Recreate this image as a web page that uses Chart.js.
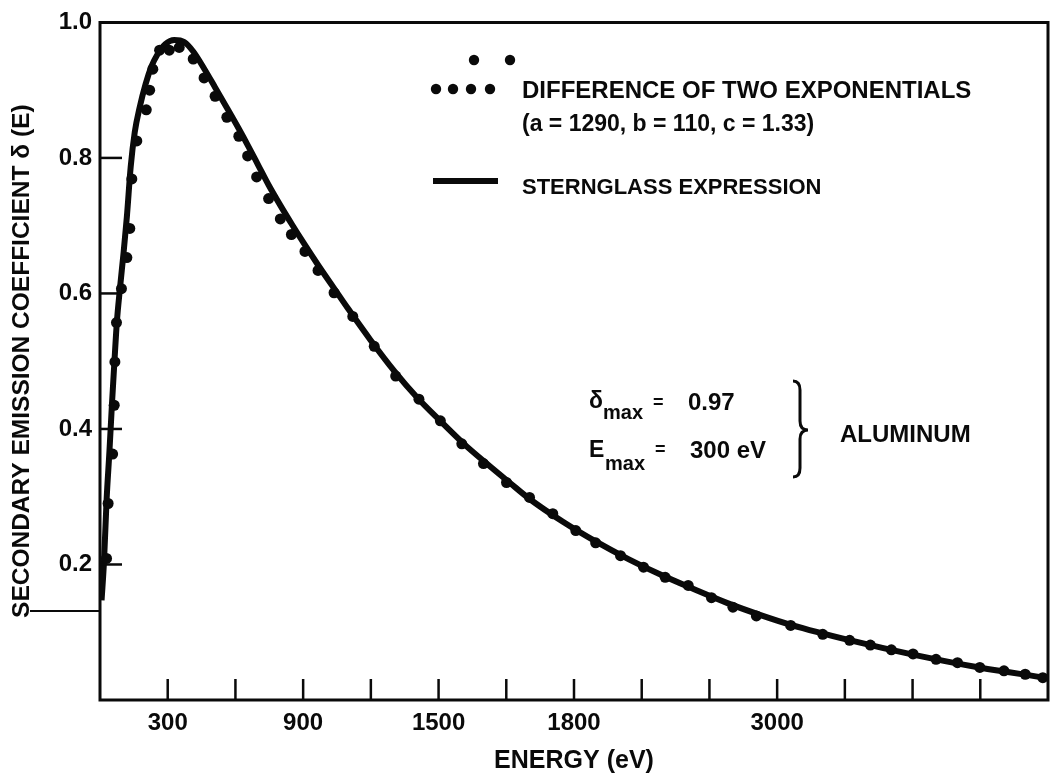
<!DOCTYPE html>
<html>
<head>
<meta charset="utf-8">
<script src="https://cdn.jsdelivr.net/npm/chart.js@4.4.1/dist/chart.umd.min.js"></script>
<style>
  html, body { margin: 0; padding: 0; background: #fff; }
  #wrap { width: 1057px; height: 776px; position: relative; }
</style>
</head>
<body>
<div id="wrap"><canvas id="c"></canvas></div>
<script>
// ---- data ----
const energyDots = [29,36,56,63,66,73,95,119,132,141,163,205,220,234,264,307,351,413,461,510,562,615,654,694,747,799,848,908,966,1037,1120,1215,1310,1413,1508,1603,1699,1801,1903,2006,2108,2196,2306,2408,2504,2606,2709,2804,2908,3060,3202,3321,3413,3506,3602,3704,3799,3898,4005,4099,4177];
const deltaDots = [0.209,0.290,0.363,0.435,0.499,0.557,0.607,0.653,0.696,0.769,0.825,0.871,0.900,0.931,0.959,0.959,0.963,0.946,0.918,0.891,0.860,0.832,0.803,0.772,0.740,0.710,0.687,0.662,0.634,0.601,0.566,0.522,0.478,0.444,0.412,0.378,0.349,0.321,0.299,0.275,0.250,0.232,0.213,0.196,0.181,0.169,0.151,0.137,0.124,0.110,0.097,0.088,0.081,0.074,0.068,0.060,0.055,0.048,0.043,0.038,0.033];

const energyLine = [7,18,29,42,53,64,75,88,105,119,136,154,176,202,228,255,290,329,373,413,461,510,562,615,659,703,747,799,852,905,966,1032,1098,1199,1305,1406,1507,1612,1713,1814,1902,2051,2196,2341,2490,2635,2780,2930,3061,3325,3602,3896,4186];
const deltaLine = [0.147,0.206,0.294,0.368,0.437,0.500,0.559,0.606,0.662,0.713,0.787,0.838,0.875,0.909,0.935,0.953,0.968,0.974,0.971,0.957,0.932,0.904,0.874,0.843,0.816,0.788,0.760,0.730,0.701,0.673,0.642,0.610,0.578,0.531,0.485,0.446,0.412,0.378,0.349,0.321,0.297,0.263,0.234,0.208,0.184,0.163,0.143,0.125,0.111,0.088,0.067,0.048,0.033];

const xTickValues = [0,300,600,900,1200,1500,1800,2100,2400,2700,3000,3300,3600,3900,4200];
const xLabelValues = [300, 900, 1500, 2100, 3000];
const xLabelTexts = ['300', '900', '1500', '1800', '3000'];
const yTickValues = [0, 0.2, 0.4, 0.6, 0.8, 1.0];
const yLabelTexts = ['', '0.2', '0.4', '0.6', '0.8', '1.0'];

const seriesNames = ['DIFFERENCE OF TWO EXPONENTIALS', 'STERNGLASS EXPRESSION'];
const paramText = '(a = 1290, b = 110, c = 1.33)';
const xTitle = 'ENERGY (eV)';
const yTitle = 'SECONDARY EMISSION COEFFICIENT δ (E)';

const FONT = '"Liberation Sans", Arial, Helvetica, sans-serif';
const INK = '#0a0a0a';

const toXY = (xs, ys) => xs.map((x, i) => ({ x: x, y: ys[i] }));

const decor = {
  id: 'decor',
  afterDatasetsDraw(chart) {
    const { ctx, chartArea: a, scales } = chart;
    const xs = scales.x, ys = scales.y;
    ctx.save();
    ctx.strokeStyle = INK;
    ctx.fillStyle = INK;
    ctx.lineCap = 'butt';
    // frame
    ctx.lineWidth = 3;
    ctx.beginPath();
    ctx.moveTo(a.left, a.top); ctx.lineTo(a.right, a.top);
    ctx.lineTo(a.right, a.bottom); ctx.lineTo(a.left, a.bottom);
    ctx.closePath();
    ctx.stroke();
    // inward ticks on x
    ctx.lineWidth = 2.5;
    xTickValues.forEach(v => {
      if (v <= xs.min || v >= xs.max) return;
      const px = xs.getPixelForValue(v);
      ctx.beginPath(); ctx.moveTo(px, a.bottom); ctx.lineTo(px, a.bottom - 21); ctx.stroke();
    });
    // inward ticks on y
    yTickValues.forEach(v => {
      if (v <= ys.min || v >= ys.max) return;
      const py = ys.getPixelForValue(v);
      ctx.beginPath(); ctx.moveTo(a.left, py); ctx.lineTo(a.left + 22, py); ctx.stroke();
    });
    // stray rule at left of axis
    ctx.lineWidth = 2;
    ctx.beginPath(); ctx.moveTo(30, 611); ctx.lineTo(a.left, 611); ctx.stroke();

    // legend
    [[436,89],[453,89],[471,89],[490,89],[474,60],[510,60]].forEach(p => {
      ctx.beginPath(); ctx.arc(p[0], p[1], 5.2, 0, Math.PI * 2); ctx.fill();
    });
    ctx.lineWidth = 6;
    ctx.beginPath(); ctx.moveTo(433, 181); ctx.lineTo(498, 181); ctx.stroke();

    ctx.textAlign = 'left';
    ctx.textBaseline = 'alphabetic';
    ctx.font = 'bold 24px ' + FONT;
    ctx.fillText(seriesNames[0], 522, 98);
    ctx.font = 'bold 23px ' + FONT;
    ctx.fillText(paramText, 522, 131);
    ctx.font = 'bold 22px ' + FONT;
    ctx.fillText(seriesNames[1], 522, 194);

    // annotation
    ctx.font = 'bold 23px ' + FONT;
    ctx.fillText('δ', 589, 408);
    ctx.font = 'bold 20px ' + FONT;
    ctx.fillText('max', 603, 419);
    ctx.font = 'bold 18px ' + FONT;
    ctx.fillText('=', 653, 408);
    ctx.font = 'bold 24px ' + FONT;
    ctx.fillText('0.97', 688, 410);

    ctx.font = 'bold 23px ' + FONT;
    ctx.fillText('E', 589, 457);
    ctx.font = 'bold 20px ' + FONT;
    ctx.fillText('max', 605, 470);
    ctx.font = 'bold 18px ' + FONT;
    ctx.fillText('=', 655, 455);
    ctx.font = 'bold 24px ' + FONT;
    ctx.fillText('300 eV', 690, 458);

    ctx.fillText('ALUMINUM', 840, 442);

    // brace
    ctx.lineWidth = 3;
    ctx.beginPath();
    ctx.moveTo(793, 381);
    ctx.quadraticCurveTo(800, 381, 800, 390);
    ctx.lineTo(800, 421);
    ctx.quadraticCurveTo(800, 430, 808, 430);
    ctx.quadraticCurveTo(800, 430, 800, 439);
    ctx.lineTo(800, 468);
    ctx.quadraticCurveTo(800, 477, 793, 477);
    ctx.stroke();
    ctx.restore();
  }
};

new Chart(document.getElementById('c'), {
  type: 'scatter',
  data: {
    datasets: [
      {
        label: seriesNames[0],
        data: toXY(energyDots, deltaDots),
        showLine: false,
        pointRadius: 5.5,
        pointHoverRadius: 5.5,
        pointBackgroundColor: INK,
        pointBorderWidth: 0,
        order: 1
      },
      {
        label: seriesNames[1],
        data: toXY(energyLine, deltaLine),
        showLine: true,
        borderColor: INK,
        borderWidth: 6,
        pointRadius: 0,
        cubicInterpolationMode: 'monotone',
        order: 2
      }
    ]
  },
  options: {
    responsive: true,
    maintainAspectRatio: false,
    animation: false,
    devicePixelRatio: 1,
    layout: { padding: { top: 20, right: 1, left: 0, bottom: 0 } },
    plugins: { legend: { display: false }, tooltip: { enabled: false } },
    scales: {
      x: {
        type: 'linear',
        min: 0,
        max: 4200,
        afterBuildTicks: s => { s.ticks = xTickValues.map(v => ({ value: v })); },
        afterFit: s => { s.height = 76; },
        grid: { display: false, drawTicks: false },
        border: { display: false },
        ticks: {
          autoSkip: false,
          maxRotation: 0,
          padding: 9,
          color: INK,
          font: { family: FONT, size: 24, weight: 'bold' },
          callback: v => { const i = xLabelValues.indexOf(v); return i >= 0 ? xLabelTexts[i] : ''; }
        },
        title: {
          display: true,
          text: xTitle,
          color: INK,
          padding: { top: 0, bottom: 0 },
          font: { family: FONT, size: 25, weight: 'bold' }
        }
      },
      y: {
        type: 'linear',
        min: 0,
        max: 1,
        afterBuildTicks: s => { s.ticks = yTickValues.map(v => ({ value: v })); },
        afterFit: s => { s.width = 100; },
        grid: { display: false, drawTicks: false },
        border: { display: false },
        ticks: {
          autoSkip: false,
          padding: 8,
          color: INK,
          font: { family: FONT, size: 24, weight: 'bold' },
          callback: v => { const i = yTickValues.findIndex(t => Math.abs(t - v) < 1e-9); return i >= 0 ? yLabelTexts[i] : ''; }
        },
        title: {
          display: true,
          text: yTitle,
          color: INK,
          padding: { top: 8, bottom: 0 },
          font: { family: FONT, size: 24.5, weight: 'bold' }
        }
      }
    }
  },
  plugins: [decor]
});
</script>
</body>
</html>
